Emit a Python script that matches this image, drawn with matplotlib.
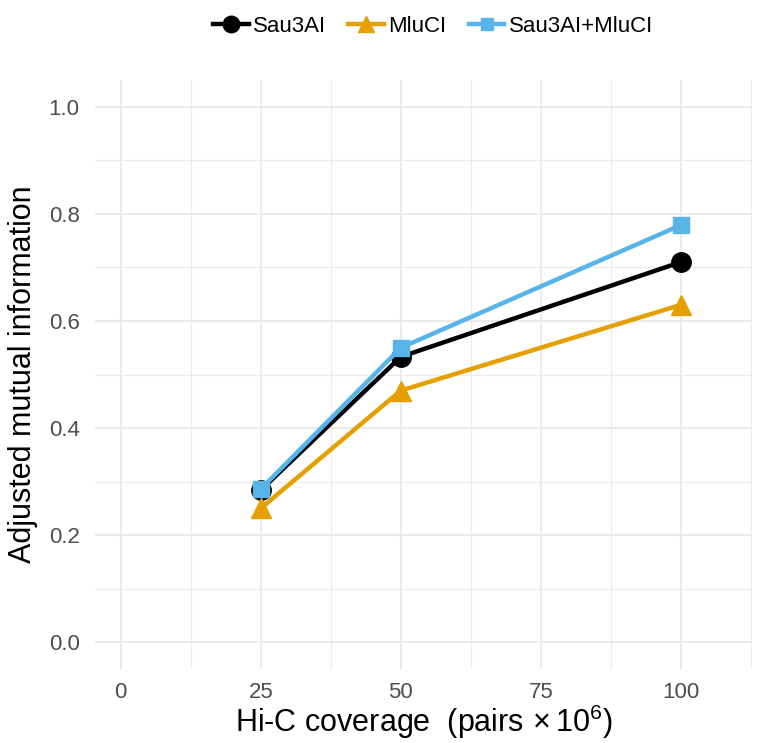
import matplotlib
matplotlib.use("Agg")
import matplotlib.pyplot as plt

coverage = [25, 50, 100]
sau3ai = [0.284, 0.533, 0.710]
mluci = [0.250, 0.470, 0.630]
both = [0.286, 0.550, 0.779]
series_names = ["Sau3AI", "MluCI", "Sau3AI+MluCI"]
x_ticks = [0, 25, 50, 75, 100]
y_ticks = [0.0, 0.2, 0.4, 0.6, 0.8, 1.0]

plt.rcParams['font.family'] = ['Liberation Sans', 'DejaVu Sans']
plt.rcParams['mathtext.fontset'] = 'custom'
plt.rcParams['mathtext.rm'] = 'Liberation Sans'
plt.rcParams['mathtext.it'] = 'Liberation Sans:italic'
plt.rcParams['mathtext.bf'] = 'Liberation Sans:bold'

fig = plt.figure(figsize=(7.57, 7.43), dpi=100)
ax = fig.add_axes([95/757, 1-669/743, (752-95)/757, (669-80)/743])

ax.plot(coverage, sau3ai, color="black", lw=3.2, marker="o", ms=14, label=series_names[0], zorder=3)
ax.plot(coverage, mluci, color="#E69F00", lw=3.2, marker="^", ms=14, label=series_names[1], zorder=3)
ax.plot(coverage, both, color="#56B4E9", lw=3.2, marker="s", ms=11, label=series_names[2], zorder=4)

ax.set_xlim(-4.6, 112.7)
ax.set_ylim(-0.05, 1.05)
ax.set_xticks(x_ticks)
ax.set_xticks([12.5, 37.5, 62.5, 87.5, 112.5], minor=True)
ax.set_yticks(y_ticks)
ax.set_yticks([0.1, 0.3, 0.5, 0.7, 0.9], minor=True)
ax.set_xticklabels([str(t) for t in x_ticks], fontsize=16, color="#4D4D4D")
ax.set_yticklabels(["%.1f" % t for t in y_ticks], fontsize=16, color="#4D4D4D")
ax.grid(which="major", color="#EBEBEB", lw=1.5)
ax.grid(which="minor", color="#EBEBEB", lw=0.8)
ax.set_axisbelow(True)
ax.tick_params(axis="y", which="both", length=0, pad=11)
ax.tick_params(axis="x", which="both", length=0, pad=9)
for s in ax.spines.values():
    s.set_visible(False)

ax.set_xlabel(r"Hi-C coverage  (pairs$\,\times$10$^6$)", fontsize=22, labelpad=0)
ax.set_ylabel("Adjusted mutual information", fontsize=22, labelpad=8)

leg = fig.legend(loc="center", bbox_to_anchor=(0.572, 1-26/743), ncol=3, frameon=False,
                 fontsize=16, handlelength=1.6, handletextpad=0.2, columnspacing=1.0, markerscale=0.85)

fig.savefig("out.png", dpi=100)
